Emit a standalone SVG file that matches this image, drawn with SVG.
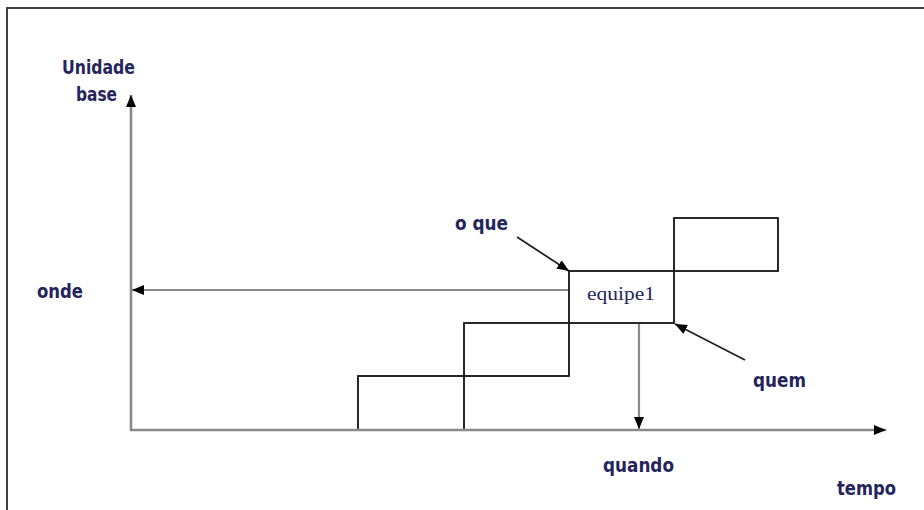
<svg xmlns="http://www.w3.org/2000/svg" width="924" height="510" viewBox="0 0 924 510">
  <style>
    .frame { fill: none; stroke: #404040; stroke-width: 2; }
    .axis { fill: none; stroke: #8a8a8a; stroke-width: 2.6; }
    .guide { fill: none; stroke: #8a8a8a; stroke-width: 2.2; }
    .pointer { fill: none; stroke: #222; stroke-width: 1.8; }
    .cell { fill: none; stroke: #111; stroke-width: 1.8; }
    .label { font-family: "DejaVu Sans Condensed", "DejaVu Sans", sans-serif; font-weight: bold; font-size: 19px; fill: #25255c; }
    .name { font-family: "Liberation Serif", serif; font-size: 18px; fill: #25255c; }
  </style>
  <defs>
    <marker id="head" viewBox="0 0 12 10" refX="12" refY="5" markerWidth="12" markerHeight="10" markerUnits="userSpaceOnUse" orient="auto">
      <path d="M0,0 L12,5 L0,10 z" fill="#000"/>
    </marker>
  </defs>

  <rect width="924" height="510" fill="#fff"/>
  <!-- page frame -->
  <path class="frame" d="M7,512 V8 H926"/>

  <!-- cells -->
  <g id="cell1"><rect class="cell" x="358" y="376" width="106" height="54"/></g>
  <g id="cell2"><rect class="cell" x="464" y="323" width="105" height="53"/></g>
  <g id="equipe1">
    <rect class="cell" x="569" y="271" width="105" height="52"/>
    <text class="name" x="587" y="300" textLength="68" lengthAdjust="spacingAndGlyphs">equipe1</text>
  </g>
  <g id="cell4"><rect class="cell" x="674" y="218" width="104" height="53"/></g>

  <!-- connectors -->
  <g id="connectors">
    <line class="axis" x1="131" y1="431" x2="131" y2="95" marker-end="url(#head)"/>
    <line class="axis" x1="130" y1="430" x2="886" y2="430" marker-end="url(#head)"/>
    <line class="guide" x1="568" y1="290" x2="132" y2="290" marker-end="url(#head)"/>
    <line class="guide" x1="639" y1="324" x2="639" y2="429" marker-end="url(#head)"/>
    <line class="pointer" x1="517" y1="237" x2="569" y2="271" marker-end="url(#head)"/>
    <line class="pointer" x1="745" y1="360" x2="675" y2="324" marker-end="url(#head)"/>
  </g>

  <!-- labels -->
  <g id="labels">
    <text class="label" x="62" y="74" textLength="73" lengthAdjust="spacingAndGlyphs">Unidade</text>
    <text class="label" x="76" y="101" textLength="41" lengthAdjust="spacingAndGlyphs">base</text>
    <text class="label" x="37" y="298" textLength="46" lengthAdjust="spacingAndGlyphs">onde</text>
    <text class="label" x="455" y="230" textLength="53" lengthAdjust="spacingAndGlyphs">o que</text>
    <text class="label" x="753" y="387" textLength="53" lengthAdjust="spacingAndGlyphs">quem</text>
    <text class="label" x="603" y="472" textLength="71" lengthAdjust="spacingAndGlyphs">quando</text>
    <text class="label" x="837" y="495" textLength="59" lengthAdjust="spacingAndGlyphs">tempo</text>
  </g>
</svg>
